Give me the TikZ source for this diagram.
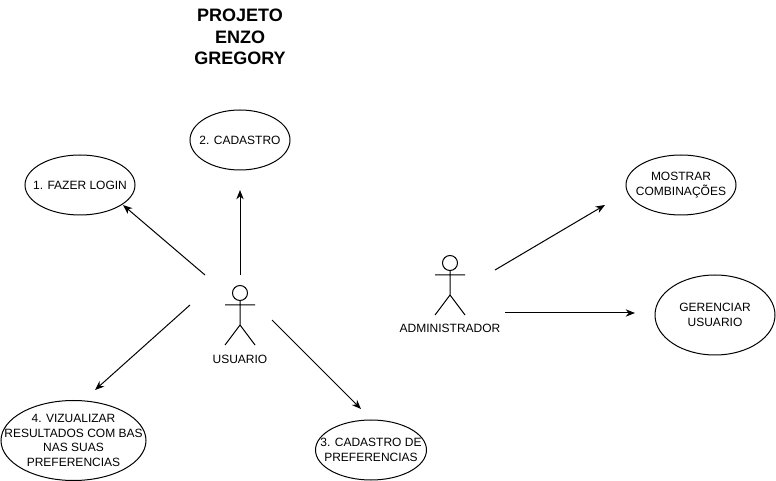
\documentclass[tikz,border=0pt]{standalone}
\usepackage{fontspec}
\setmainfont{Liberation Sans}
\usetikzlibrary{shapes.geometric,arrows.meta}
\tikzset{x=0.75pt,y=-0.75pt,
 lbl/.style={inner sep=0pt,align=center,font=\fontsize{9}{11}\selectfont},
 uc/.style 2 args={draw,ellipse,line width=0.75pt,minimum width=#1*0.75pt,minimum height=#2*0.75pt,inner sep=0pt},
 conn/.style={-{Stealth[length=7pt,width=5.5pt]},line width=0.75pt},
 act/.style={line width=0.75pt}}
\begin{document}
\begin{tikzpicture}
\useasboundingbox (0,0) rectangle (776,481);
\fill[white] (0,0) rectangle (776,481);
\node[lbl,font=\bfseries\fontsize{13.5}{16}\selectfont] (title) at (240,37) {PROJETO\\ ENZO\\ GREGORY};
\node[uc={100}{60},label={[lbl]center:{2. CADASTRO}}] (cad) at (240,140) {};
\node[uc={110}{60},label={[lbl]center:{1. FAZER LOGIN}}] (log) at (80,185) {};
\node[uc={145}{80},label={[lbl]center:{4. VIZUALIZAR\\RESULTADOS COM BAS\\NAS SUAS\\PREFERENCIAS}}] (viz) at (73.5,440.5) {};
\node[uc={111}{60},label={[lbl]center:{3. CADASTRO DE\\PREFERENCIAS}}] (pre) at (371,450) {};
\node[uc={110}{60},label={[lbl]center:{MOSTRAR\\COMBINAÇÕES}}] (mos) at (681,185) {};
\node[uc={120}{80},label={[lbl]center:{GERENCIAR\\USUARIO}}] (ger) at (715,315) {};
% usuario actor
\coordinate (u) at (240,293);
\draw[act] (u) circle[radius=7.5];
\draw[act] (240,300.5) -- (240,325) (225,305) -- (255,305) (225,345) -- (240,325) -- (255,345);
\node[lbl] (ulbl) at (240,359) {USUARIO};
% admin actor
\coordinate (a) at (450,263);
\draw[act] (a) circle[radius=7.5];
\draw[act] (450,270.5) -- (450,295) (435,275) -- (465,275) (435,315) -- (450,295) -- (465,315);
\node[lbl] (albl) at (450,328) {ADMINISTRADOR};
\coordinate (u1) at (240,275); \coordinate (u1e) at (240,190);
\coordinate (u2) at (205,275); \coordinate (u2e) at (123,205);
\coordinate (u3) at (190,305); \coordinate (u3e) at (95,390);
\coordinate (u4) at (272,320); \coordinate (u4e) at (361,409);
\coordinate (a1) at (495,270); \coordinate (a1e) at (605,205);
\coordinate (a2) at (505,313); \coordinate (a2e) at (635,313);
\draw[conn] (u1) -- (u1e);
\draw[conn] (u2) -- (u2e);
\draw[conn] (u3) -- (u3e);
\draw[conn] (u4) -- (u4e);
\draw[conn] (a1) -- (a1e);
\draw[conn] (a2) -- (a2e);
\end{tikzpicture}
\end{document}
